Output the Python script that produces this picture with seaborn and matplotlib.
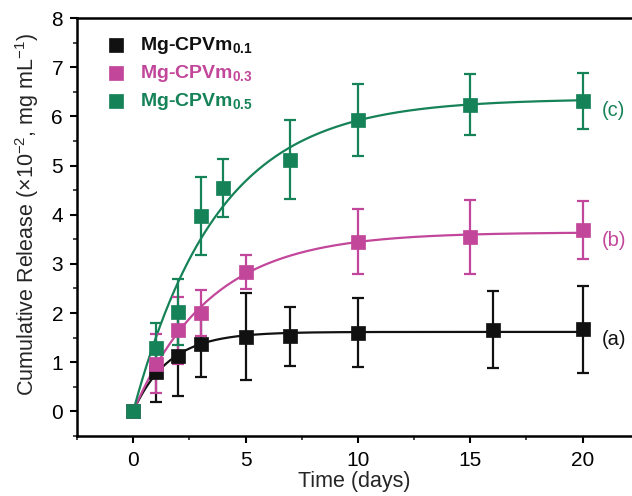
import numpy as np
import pandas as pd
import matplotlib
matplotlib.use("Agg")
import matplotlib.pyplot as plt
import seaborn as sns
from matplotlib.ticker import MultipleLocator

# ---- data ----
series_names = ["Mg-CPVm0.1", "Mg-CPVm0.3", "Mg-CPVm0.5"]
curve_tags = ["(a)", "(b)", "(c)"]

t_a = [0, 1, 2, 3, 5, 7, 10, 16, 20]
y_a = [0.0, 0.80, 1.12, 1.38, 1.52, 1.53, 1.60, 1.66, 1.67]
e_a = [0.0, 0.60, 0.80, 0.69, 0.89, 0.60, 0.70, 0.78, 0.89]

t_b = [0, 1, 2, 3, 5, 10, 15, 20]
y_b = [0.0, 0.97, 1.65, 2.00, 2.84, 3.45, 3.55, 3.68]
e_b = [0.0, 0.60, 0.68, 0.46, 0.35, 0.66, 0.75, 0.59]

t_c = [0, 1, 2, 3, 4, 7, 10, 15, 20]
y_c = [0.0, 1.28, 2.02, 3.98, 4.55, 5.12, 5.93, 6.24, 6.32]
e_c = [0.0, 0.52, 0.67, 0.79, 0.59, 0.80, 0.73, 0.62, 0.57]

colors = ["#111111", "#c2479b", "#158257"]

# ---- style ----
sns.set_theme(style="ticks")
plt.rcParams["font.family"] = ["Liberation Sans", "DejaVu Sans"]
plt.rcParams["mathtext.fontset"] = "custom"
plt.rcParams["mathtext.rm"] = "Liberation Sans"
plt.rcParams["mathtext.bf"] = "Liberation Sans:bold"
plt.rcParams["mathtext.it"] = "Liberation Sans:italic"

fig = plt.figure(figsize=(6.32, 4.96), dpi=100)
ax = fig.add_axes([77 / 632, 1 - 436 / 496, 1 - 77 / 632, (436 - 18) / 496])

frames = []
for name, t, y, e in [(series_names[0], t_a, y_a, e_a),
                      (series_names[1], t_b, y_b, e_b),
                      (series_names[2], t_c, y_c, e_c)]:
    frames.append(pd.DataFrame({"series": name, "t": t, "y": y, "err": e}))
df = pd.concat(frames, ignore_index=True)


def fit_first_order(t, y):
    t = np.asarray(t, float)
    y = np.asarray(y, float)
    best = None
    for k in np.linspace(0.05, 3.0, 600):
        f = 1 - np.exp(-k * t)
        A = np.dot(f, y) / np.dot(f, f)
        r = np.sum((A * f - y) ** 2)
        if best is None or r < best[0]:
            best = (r, A, k)
    return best[1], best[2]


legend_labels = [r"Mg-CPVm$_{\mathbf{0.1}}$", r"Mg-CPVm$_{\mathbf{0.3}}$",
                 r"Mg-CPVm$_{\mathbf{0.5}}$"]

tt = np.linspace(0, 20, 300)
for i, name in enumerate(series_names):
    sub = df[df.series == name]
    A, k = fit_first_order(sub.t, sub.y)
    fit_df = pd.DataFrame({"t": tt, "y": A * (1 - np.exp(-k * tt))})
    sns.lineplot(data=fit_df, x="t", y="y", ax=ax, color=colors[i], lw=1.6,
                 legend=False)
    ax.errorbar(sub.t, sub.y, yerr=sub.err, fmt="none", ecolor=colors[i],
                elinewidth=1.6, capsize=4, capthick=1.6, zorder=3)
    sns.scatterplot(data=sub, x="t", y="y", ax=ax, marker="s", s=110,
                    color=colors[i], edgecolor=colors[i], linewidth=0.5,
                    zorder=4, label=legend_labels[i])

for i, (tag, y_last) in enumerate(zip(curve_tags, [y_a[-1], y_b[-1], y_c[-1]])):
    ax.text(20.85, y_last - 0.2, tag, color=colors[i], fontsize=14.5,
            va="center", ha="left")

ax.set_xlim(-2.5, 22.2)
ax.set_ylim(-0.5, 8)
ax.xaxis.set_major_locator(MultipleLocator(5))
ax.xaxis.set_minor_locator(MultipleLocator(2.5))
ax.yaxis.set_major_locator(MultipleLocator(1))
ax.yaxis.set_minor_locator(MultipleLocator(0.5))
ax.tick_params(which="major", direction="out", length=5, width=1.5,
               labelsize=15, colors="black")
ax.tick_params(axis="x", which="major", pad=5.5)
ax.tick_params(axis="y", which="major", pad=5)
ax.tick_params(which="minor", direction="out", length=3, width=1.2)
for side in ["left", "bottom", "top"]:
    ax.spines[side].set_linewidth(1.8)
    ax.spines[side].set_color("black")
ax.spines["right"].set_visible(False)

ax.set_xlabel("Time (days)", fontsize=15.5, labelpad=1)
ax.set_ylabel(r"Cumulative Release (×10$^{-2}$, mg mL$^{-1}$)", fontsize=15.5)
ax.yaxis.set_label_coords(-0.065, 0.53)

leg = ax.legend(loc="upper left", bbox_to_anchor=(0.022, 1.0), frameon=False,
                handletextpad=0.7, labelspacing=0.35, borderaxespad=0.5,
                prop={"weight": "bold", "size": 14}, handlelength=1.0)
for txt, c in zip(leg.get_texts(), colors):
    txt.set_color(c)

fig.savefig("out.png", dpi=100)
